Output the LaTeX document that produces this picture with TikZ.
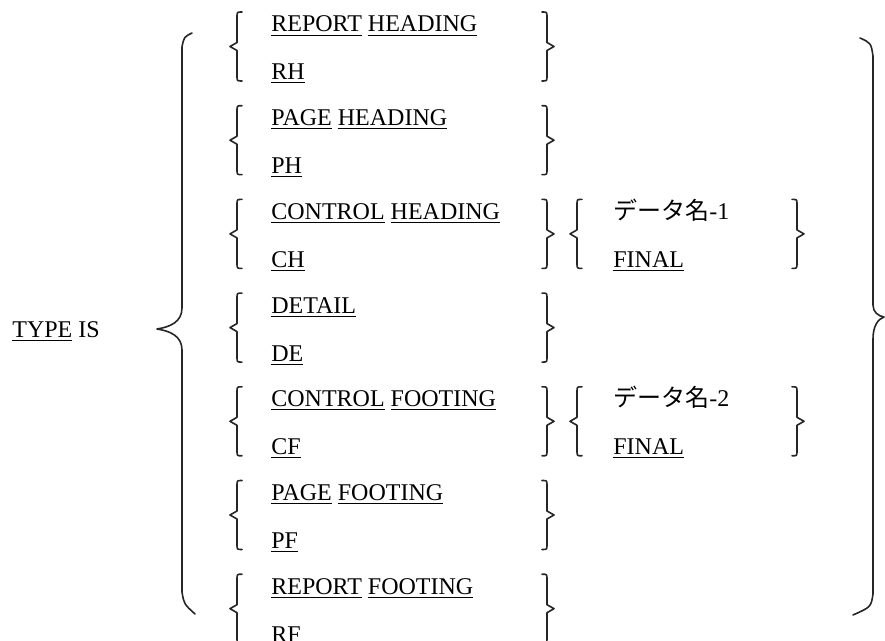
\documentclass[tikz,border=0pt]{standalone}
\usepackage{fontspec}
\setmainfont{Liberation Serif}
\newfontfamily\cjk{Noto Sans CJK JP}
\begin{document}
\begin{tikzpicture}[x=0.5pt,y=-0.5pt,
  brace/.style={draw=black!85,line width=0.8pt,line join=round,line cap=round},
  txt/.style={anchor=base west,inner sep=0pt,font=\fontsize{12pt}{14pt}\selectfont}]
\useasboundingbox (0,0) rectangle (885,641);
% small braces
\newcommand\myLbrace[3]{%
 \draw[brace] ({#1+5},#2) .. controls ({#1},#2) .. ({#1},{#2+5}) -- ({#1},{(#2+#3)/2-4}) -- ({#1-7},{(#2+#3)/2}) -- ({#1},{(#2+#3)/2+4}) -- ({#1},{#3-5}) .. controls ({#1},#3) .. ({#1+5},#3);}
\newcommand\myRbrace[3]{%
 \draw[brace] ({#1-5},#2) .. controls ({#1},#2) .. ({#1},{#2+5}) -- ({#1},{(#2+#3)/2-4}) -- ({#1+7},{(#2+#3)/2}) -- ({#1},{(#2+#3)/2+4}) -- ({#1},{#3-5}) .. controls ({#1},#3) .. ({#1-5},#3);}
\foreach \k in {0,...,6}{
  \pgfmathsetmacro\t{12+93.7*\k}
  \pgfmathsetmacro\b{\t+69}
  \myLbrace{237}{\t}{\b}
  \myRbrace{547}{\t}{\b}
}
\foreach \k in {2,4}{
  \pgfmathsetmacro\t{12+93.7*\k}
  \pgfmathsetmacro\b{\t+69}
  \myLbrace{577}{\t}{\b}
  \myRbrace{797}{\t}{\b}
}
% big left brace
\draw[brace] (192,33) .. controls (184,37) .. (182,47) -- (182,308) .. controls (182,322) and (170,327) .. (157,329) .. controls (170,331) and (182,336) .. (182,350) -- (182,592) .. controls (184,604) .. (195,614);
% big right brace
\draw[brace] (860,38) .. controls (871,43) .. (873,56) -- (873,305) .. controls (873,312) and (878,316) .. (884,317) .. controls (878,319) and (873,326) .. (873,339) -- (873,594) .. controls (871,607) .. (853,615);
% texts
\node[txt] (type) at (12,338) {\underline{TYPE} IS};
\node[txt] (rh1) at (271,32) {\underline{REPORT} \underline{HEADING}};
\node[txt] (rh2) at (271,80) {\underline{RH}};
\node[txt] (ph1) at (271,125.7) {\underline{PAGE} \underline{HEADING}};
\node[txt] (ph2) at (271,173.7) {\underline{PH}};
\node[txt] (ch1) at (271,219.4) {\underline{CONTROL} \underline{HEADING}};
\node[txt] (ch2) at (271,267.4) {\underline{CH}};
\node[txt] (de1) at (271,313.1) {\underline{DETAIL}};
\node[txt] (de2) at (271,361.1) {\underline{DE}};
\node[txt] (cf1) at (271,406.8) {\underline{CONTROL} \underline{FOOTING}};
\node[txt] (cf2) at (271,454.8) {\underline{CF}};
\node[txt] (pf1) at (271,500.5) {\underline{PAGE} \underline{FOOTING}};
\node[txt] (pf2) at (271,548.5) {\underline{PF}};
\node[txt] (rf1) at (271,594.2) {\underline{REPORT} \underline{FOOTING}};
\node[txt] (rf2) at (271,642.2) {\underline{RF}};
\node[txt] (d1) at (613,219.4) {{\cjk データ名}-1};
\node[txt] (f1) at (613,267.4) {\underline{FINAL}};
\node[txt] (d2) at (613,406.8) {{\cjk データ名}-2};
\node[txt] (f2) at (613,454.8) {\underline{FINAL}};
\end{tikzpicture}
\end{document}
